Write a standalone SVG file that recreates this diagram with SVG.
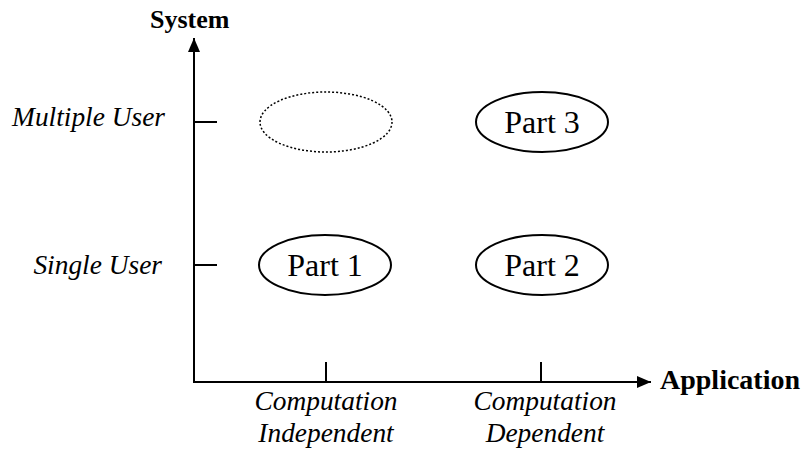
<svg xmlns="http://www.w3.org/2000/svg" width="806" height="453" viewBox="0 0 806 453">
  <style>
    .axis { stroke: #000; stroke-width: 2; fill: none; }
    .node { fill: #fff; stroke: #000; stroke-width: 2; }
    .ghost { fill: none; stroke: #000; stroke-width: 1.5; stroke-dasharray: 2 2; }
    text { font-family: 'Liberation Serif', 'DejaVu Serif', serif; fill: #000; }
    .title { font-weight: bold; font-size: 26px; }
    .tick { font-style: italic; font-size: 27.4px; }
    .label { font-size: 32px; text-anchor: middle; }
  </style>
  <defs>
    <marker id="arrow" viewBox="0 0 14 12" refX="14" refY="6" markerWidth="14" markerHeight="12" markerUnits="userSpaceOnUse" orient="auto">
      <path d="M0,0 L14,6 L0,12 Z" fill="#000"/>
    </marker>
  </defs>

  <!-- axes and tick marks -->
  <g id="connectors">
    <path class="axis" d="M194,383 V38" marker-end="url(#arrow)"/>
    <path class="axis" d="M193,382 H651" marker-end="url(#arrow)"/>
    <path class="axis" d="M194,122 H217"/>
    <path class="axis" d="M194,265 H217"/>
    <path class="axis" d="M326,382 V362"/>
    <path class="axis" d="M541,382 V362"/>
  </g>

  <!-- axis titles -->
  <text class="title" x="150" y="28">System</text>
  <text class="title" x="660" y="389" style="font-size:28px">Application</text>

  <!-- category labels -->
  <text class="tick" x="165" y="126" text-anchor="end">Multiple User</text>
  <text class="tick" x="162" y="274" text-anchor="end">Single User</text>
  <text class="tick" x="326" y="410" text-anchor="middle">Computation</text>
  <text class="tick" x="326" y="442" text-anchor="middle">Independent</text>
  <text class="tick" x="545" y="410" text-anchor="middle">Computation</text>
  <text class="tick" x="545" y="442" text-anchor="middle">Dependent</text>

  <!-- nodes -->
  <g id="empty-cell">
    <ellipse class="ghost" cx="326" cy="122" rx="66" ry="30"/>
  </g>
  <g id="part3">
    <ellipse class="node" cx="542" cy="122" rx="66" ry="30"/>
    <text class="label" x="542" y="133">Part 3</text>
  </g>
  <g id="part1">
    <ellipse class="node" cx="325" cy="265" rx="66" ry="30"/>
    <text class="label" x="325" y="276">Part 1</text>
  </g>
  <g id="part2">
    <ellipse class="node" cx="542" cy="265" rx="66" ry="30"/>
    <text class="label" x="542" y="276">Part 2</text>
  </g>
</svg>
